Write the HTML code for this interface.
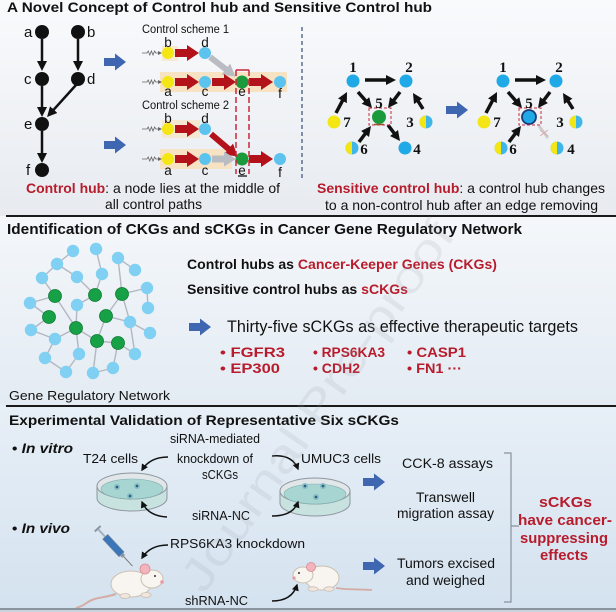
<!DOCTYPE html>
<html><head><meta charset="utf-8">
<style>
html,body{margin:0;padding:0;background:#fff;}
svg{display:block;}
text{font-family:"Liberation Sans",Arial,sans-serif;fill:#111;}
.b{font-weight:bold;}
.r{fill:#b81c2c;}
.s{font-family:"Liberation Serif",serif;font-weight:bold;font-size:15px;}
</style></head>
<body>
<svg width="616" height="612" viewBox="0 0 616 612" xmlns="http://www.w3.org/2000/svg">
<defs>
<linearGradient id="g1" x1="0" y1="0" x2="0" y2="1"><stop offset="0" stop-color="#f9fafc"/><stop offset="1" stop-color="#e7ebf0"/></linearGradient>
<linearGradient id="g2" x1="0" y1="0" x2="0" y2="1"><stop offset="0" stop-color="#f4f7fa"/><stop offset="1" stop-color="#e3ebf3"/></linearGradient>
<linearGradient id="g3" x1="0" y1="0" x2="0" y2="1"><stop offset="0" stop-color="#e7eff7"/><stop offset="1" stop-color="#d4e2ef"/></linearGradient>
<marker id="ah" viewBox="0 0 10 10" refX="5" refY="5" markerWidth="10" markerHeight="10" markerUnits="userSpaceOnUse" orient="auto"><path d="M0,0 L10,5 L0,10 z" fill="#111"/></marker>
<marker id="ah2" viewBox="0 0 10 10" refX="8" refY="5" markerWidth="7" markerHeight="7" markerUnits="userSpaceOnUse" orient="auto"><path d="M0,0 L10,5 L0,10 z" fill="#111"/></marker>
<marker id="ah3" viewBox="0 0 10 10" refX="8" refY="5" markerWidth="5" markerHeight="5" markerUnits="userSpaceOnUse" orient="auto"><path d="M0,0 L10,5 L0,10 z" fill="#b3b7c0"/></marker>
<path id="ra" d="M0,-4 H12 V-8 L24,0 L12,8 V4 H0 Z" fill="#b3121a"/>
<path id="ga" d="M0,-3.5 H12 V-7.5 L24,0 L12,7.5 V3.5 H0 Z" fill="#b9bcc3"/>
<path id="ba" d="M0,-4 H11 V-8.5 L22,0 L11,8.5 V4 H0 Z" fill="#3f67b1"/>
<g id="wv"><path d="M142,0 H147 l1.2,-2 l1.6,4 l1.6,-4 l1.6,4 l1.6,-4 l1.2,2 H159" stroke="#666" stroke-width="0.8" fill="none"/><path d="M158,-2 L162,0 L158,2z" fill="#666"/></g>
<g id="hn"><circle r="6.5" fill="#3fb6ea"/><path d="M0,-6.5 A6.5,6.5 0 0 0 0,6.5 Z" fill="#f4e614"/></g>
</defs>

<!-- backgrounds -->
<rect x="0" y="0" width="616" height="216" fill="url(#g1)"/>
<rect x="0" y="216" width="616" height="190" fill="url(#g2)"/>
<rect x="0" y="406" width="616" height="206" fill="url(#g3)"/>

<!-- ============ SECTION 1 ============ -->
<text x="7" y="12" font-size="13.5" class="b" textLength="425" lengthAdjust="spacingAndGlyphs">A Novel Concept of Control hub and Sensitive Control hub</text>

<!-- left graph -->
<g stroke="#111" stroke-width="2.5" fill="none">
<line x1="42" y1="39" x2="42" y2="66" marker-end="url(#ah)"/>
<line x1="78" y1="39" x2="78" y2="66" marker-end="url(#ah)"/>
<line x1="42" y1="86" x2="42" y2="112" marker-end="url(#ah)"/>
<line x1="76" y1="85" x2="50.4" y2="113.3" marker-end="url(#ah)"/>
<line x1="42" y1="131" x2="42" y2="158" marker-end="url(#ah)"/>
</g>
<g fill="#111">
<circle cx="42" cy="32" r="7"/><circle cx="78" cy="32" r="7"/>
<circle cx="42" cy="79" r="7"/><circle cx="78" cy="79" r="7"/>
<circle cx="42" cy="124" r="7"/><circle cx="42" cy="170" r="7"/>
</g>
<g font-size="15">
<text x="24" y="37">a</text><text x="87" y="37">b</text>
<text x="24" y="84">c</text><text x="87" y="84">d</text>
<text x="24" y="129">e</text><text x="26" y="175">f</text>
</g>
<use href="#ba" x="104" y="62"/>
<use href="#ba" x="104" y="145"/>

<!-- control scheme 1 -->
<text x="142" y="33" font-size="11.5" textLength="87" lengthAdjust="spacingAndGlyphs">Control scheme 1</text>
<rect x="162" y="46" width="16" height="15" fill="#f6e6cc" opacity="0.8"/>
<rect x="160" y="72" width="127" height="20" fill="#f7e3c3"/>
<use href="#wv" y="53"/><use href="#wv" y="82"/>
<g transform="translate(210,57) rotate(37.6)"><path d="M0,-3 H20 V-7 L32,0 L20,7 V3 H0 Z" fill="#b9bcc3"/></g>
<use href="#ra" x="175" y="53"/>
<use href="#ra" x="175" y="82"/><use href="#ra" x="212" y="82"/><use href="#ra" x="249" y="82"/>
<circle cx="168" cy="53" r="6" fill="#f4e614"/><circle cx="205" cy="53" r="6" fill="#5cc2ee"/>
<circle cx="168" cy="82" r="6" fill="#f4e614"/><circle cx="205" cy="82" r="6" fill="#5cc2ee"/>
<circle cx="242" cy="82" r="6.5" fill="#1b9a3c"/><circle cx="280" cy="82" r="6" fill="#5cc2ee"/>
<g font-size="13.5" text-anchor="middle">
<text x="168" y="47">b</text><text x="205" y="47">d</text>
<text x="168" y="96">a</text><text x="205" y="96">c</text><text x="242" y="96">e</text><text x="280" y="98">f</text>
</g>

<!-- control scheme 2 -->
<text x="142" y="109" font-size="11.5" textLength="87" lengthAdjust="spacingAndGlyphs">Control scheme 2</text>
<rect x="162" y="120" width="38" height="18" fill="#f6e6cc" opacity="0.85"/>
<rect x="160" y="149" width="72" height="20" fill="#f7e3c3"/>
<use href="#wv" y="129"/><use href="#wv" y="159"/>
<use href="#ra" x="175" y="129"/>
<g transform="translate(211,134) rotate(40.4)"><path d="M0,-3 H23 V-7 L35,0 L23,7 V3 H0 Z" fill="#b3121a"/></g>
<use href="#ra" x="175" y="159"/><use href="#ga" x="212" y="159"/><use href="#ra" x="249" y="159"/>
<circle cx="168" cy="129" r="6" fill="#f4e614"/><circle cx="205" cy="129" r="6" fill="#5cc2ee"/>
<circle cx="168" cy="159" r="6" fill="#f4e614"/><circle cx="205" cy="159" r="6" fill="#5cc2ee"/>
<circle cx="242" cy="159" r="6.5" fill="#1b9a3c"/><circle cx="280" cy="159" r="6" fill="#5cc2ee"/>
<g font-size="13.5" text-anchor="middle">
<text x="168" y="123">b</text><text x="205" y="123">d</text>
<text x="168" y="175">a</text><text x="205" y="175">c</text><text x="242" y="175">e</text><text x="280" y="177">f</text>
</g>
<!-- red dashed box -->
<g stroke="#c8283a" stroke-width="1.5" fill="none">
<line x1="236" y1="70" x2="249" y2="70"/>
<line x1="236" y1="70" x2="236" y2="174" stroke-dasharray="6 3"/>
<line x1="249" y1="70" x2="249" y2="174" stroke-dasharray="6 3"/>
<line x1="238" y1="176" x2="247" y2="176" stroke="#333"/>
</g>

<text x="26" y="193" font-size="14" textLength="254" lengthAdjust="spacingAndGlyphs"><tspan class="b r">Control hub</tspan>: a node lies at the middle of</text>
<text x="105" y="209" font-size="14" textLength="97" lengthAdjust="spacingAndGlyphs">all control paths</text>

<!-- vertical separator -->
<line x1="302" y1="27" x2="302" y2="181" stroke="#5a6f8c" stroke-width="1.5" stroke-dasharray="4 3"/>

<!-- right graph 1 -->
<g stroke="#111" stroke-width="3.5" fill="none">
<line x1="365" y1="80" x2="391" y2="80" marker-end="url(#ah)"/>
<line x1="336" y1="113" x2="344.7" y2="96.4" marker-end="url(#ah)"/>
<line x1="358" y1="92" x2="368.7" y2="104.2" marker-end="url(#ah)"/>
<line x1="400" y1="92" x2="391" y2="104" marker-end="url(#ah)"/>
<line x1="423" y1="109" x2="415.6" y2="97.2" marker-end="url(#ah)"/>
<line x1="359" y1="142" x2="368" y2="130" marker-end="url(#ah)"/>
<line x1="388" y1="125" x2="397" y2="137" marker-end="url(#ah)"/>
</g>
<circle cx="353" cy="81" r="6.5" fill="#1fa9e6"/>
<circle cx="406" cy="81" r="6.5" fill="#1fa9e6"/>
<circle cx="379" cy="117" r="7" fill="#1b9a3c"/>
<circle cx="334" cy="122" r="6.5" fill="#f4e614"/>
<use href="#hn" x="426" y="122"/>
<use href="#hn" x="352" y="148"/>
<circle cx="405" cy="148" r="6.5" fill="#1fa9e6"/>
<rect x="369" y="108" width="22" height="17" fill="none" stroke="#c8283a" stroke-width="1" stroke-dasharray="3 2"/>
<line x1="374" y1="124.5" x2="384" y2="124.5" stroke="#a0522d" stroke-width="1.5"/>
<text class="s" x="353" y="72" text-anchor="middle">1</text>
<text class="s" x="409" y="72" text-anchor="middle">2</text>
<text class="s" x="379" y="108" text-anchor="middle">5</text>
<text class="s" x="347" y="127" text-anchor="middle">7</text>
<text class="s" x="410" y="127" text-anchor="middle">3</text>
<text class="s" x="364" y="154" text-anchor="middle">6</text>
<text class="s" x="417" y="154" text-anchor="middle">4</text>

<use href="#ba" x="446" y="110"/>

<!-- right graph 2 -->
<g transform="translate(150,0)">
<g stroke="#111" stroke-width="3.5" fill="none">
<line x1="365" y1="80" x2="391" y2="80" marker-end="url(#ah)"/>
<line x1="336" y1="113" x2="344.7" y2="96.4" marker-end="url(#ah)"/>
<line x1="358" y1="92" x2="368.7" y2="104.2" marker-end="url(#ah)"/>
<line x1="400" y1="92" x2="391" y2="104" marker-end="url(#ah)"/>
<line x1="423" y1="109" x2="415.6" y2="97.2" marker-end="url(#ah)"/>
<line x1="359" y1="142" x2="368" y2="130" marker-end="url(#ah)"/>
</g>
<g opacity="0.5"><line x1="389" y1="126" x2="398" y2="138" stroke="#b0a8a8" stroke-width="3"/>
<path d="M390,130 l8,6 M398,130 l-8,6" stroke="#c86a70" stroke-width="1"/></g>
<circle cx="353" cy="81" r="6.5" fill="#1fa9e6"/>
<circle cx="406" cy="81" r="6.5" fill="#1fa9e6"/>
<circle cx="379" cy="117" r="7" fill="#1fa9e6" stroke="#1c3b7a" stroke-width="1.8"/>
<circle cx="334" cy="122" r="6.5" fill="#f4e614"/>
<use href="#hn" x="426" y="122"/>
<use href="#hn" x="351" y="148"/>
<use href="#hn" x="407" y="148"/>
<rect x="369" y="108" width="22" height="17" fill="none" stroke="#c8283a" stroke-width="1" stroke-dasharray="3 2"/>
<text class="s" x="353" y="72" text-anchor="middle">1</text>
<text class="s" x="409" y="72" text-anchor="middle">2</text>
<text class="s" x="379" y="108" text-anchor="middle">5</text>
<text class="s" x="347" y="127" text-anchor="middle">7</text>
<text class="s" x="410" y="127" text-anchor="middle">3</text>
<text class="s" x="363" y="154" text-anchor="middle">6</text>
<text class="s" x="421" y="154" text-anchor="middle">4</text>
</g>

<text x="317" y="193" font-size="14" textLength="288" lengthAdjust="spacingAndGlyphs"><tspan class="b r">Sensitive control hub</tspan>: a control hub changes</text>
<text x="325" y="210" font-size="14" textLength="273" lengthAdjust="spacingAndGlyphs">to a non-control hub after an edge removing</text>

<rect x="6" y="215" width="610" height="2" fill="#1a1a1a"/>

<!-- ============ SECTION 2 ============ -->
<text x="7" y="234" font-size="15" class="b" textLength="515" lengthAdjust="spacingAndGlyphs">Identification of CKGs and sCKGs in Cancer Gene Regulatory Network</text>

<!-- network -->
<g stroke="#b3b7c0" stroke-width="1.4" fill="none">
<line x1="57" y1="264" x2="73" y2="251"/>
<line x1="96" y1="249" x2="102" y2="274"/>
<line x1="118" y1="258" x2="135" y2="270"/>
<line x1="118" y1="258" x2="122" y2="294"/>
<line x1="57" y1="264" x2="77" y2="277"/>
<line x1="42" y1="278" x2="57" y2="264"/>
<line x1="42" y1="278" x2="55" y2="296"/>
<line x1="30" y1="303" x2="55" y2="296"/>
<line x1="30" y1="303" x2="49" y2="317"/>
<line x1="31" y1="330" x2="49" y2="317"/>
<line x1="31" y1="330" x2="55" y2="339"/>
<line x1="55" y1="339" x2="76" y2="328"/>
<line x1="55" y1="296" x2="76" y2="328"/>
<line x1="77" y1="305" x2="76" y2="328"/>
<line x1="77" y1="277" x2="95" y2="295"/>
<line x1="102" y1="274" x2="95" y2="295"/>
<line x1="95" y1="295" x2="77" y2="305"/>
<line x1="122" y1="294" x2="106" y2="316"/>
<line x1="122" y1="294" x2="147" y2="288"/>
<line x1="147" y1="288" x2="148" y2="308"/>
<line x1="122" y1="294" x2="130" y2="322"/>
<line x1="130" y1="322" x2="135" y2="354"/>
<line x1="130" y1="322" x2="150" y2="333"/>
<line x1="106" y1="316" x2="97" y2="341"/>
<line x1="76" y1="328" x2="97" y2="341"/>
<line x1="76" y1="328" x2="79" y2="354"/>
<line x1="97" y1="341" x2="93" y2="373"/>
<line x1="97" y1="341" x2="118" y2="343"/>
<line x1="45" y1="358" x2="55" y2="339"/>
<line x1="45" y1="358" x2="66" y2="372"/>
<line x1="66" y1="372" x2="79" y2="354"/>
<line x1="93" y1="373" x2="113" y2="368"/>
<line x1="113" y1="368" x2="118" y2="343"/>
<line x1="135" y1="354" x2="118" y2="343"/>
<line x1="106" y1="316" x2="130" y2="322"/>
</g>
<g fill="#7fd0f2">
<circle cx="73" cy="251" r="6.2"/><circle cx="96" cy="249" r="6.2"/><circle cx="57" cy="264" r="6.2"/>
<circle cx="118" cy="258" r="6.2"/><circle cx="135" cy="270" r="6.2"/><circle cx="42" cy="278" r="6.2"/>
<circle cx="77" cy="277" r="6.2"/><circle cx="102" cy="274" r="6.2"/><circle cx="147" cy="288" r="6.2"/>
<circle cx="30" cy="303" r="6.2"/><circle cx="77" cy="305" r="6.2"/><circle cx="148" cy="308" r="6.2"/>
<circle cx="130" cy="322" r="6.2"/><circle cx="31" cy="330" r="6.2"/><circle cx="55" cy="339" r="6.2"/>
<circle cx="150" cy="333" r="6.2"/><circle cx="45" cy="358" r="6.2"/><circle cx="79" cy="354" r="6.2"/>
<circle cx="135" cy="354" r="6.2"/><circle cx="66" cy="372" r="6.2"/><circle cx="93" cy="373" r="6.2"/>
<circle cx="113" cy="368" r="6.2"/>
</g>
<g fill="#17a146" stroke="#0d7a32" stroke-width="0.8">
<circle cx="55" cy="296" r="6.5"/><circle cx="95" cy="295" r="6.5"/><circle cx="122" cy="294" r="6.5"/>
<circle cx="49" cy="317" r="6.5"/><circle cx="106" cy="316" r="6.5"/><circle cx="76" cy="328" r="6.5"/>
<circle cx="97" cy="341" r="6.5"/><circle cx="118" cy="343" r="6.5"/>
</g>
<text x="9" y="400" font-size="12.5" textLength="161" lengthAdjust="spacingAndGlyphs">Gene Regulatory Network</text>

<text x="187" y="269" font-size="13.5" class="b" textLength="310" lengthAdjust="spacingAndGlyphs">Control hubs as <tspan class="r">Cancer-Keeper Genes (CKGs)</tspan></text>
<text x="187" y="294" font-size="13.5" class="b" textLength="221" lengthAdjust="spacingAndGlyphs">Sensitive control hubs as <tspan class="r">sCKGs</tspan></text>
<use href="#ba" x="189" y="327"/>
<text x="227" y="332" font-size="17" textLength="351" lengthAdjust="spacingAndGlyphs">Thirty-five sCKGs as effective therapeutic targets</text>
<g font-size="13.5" class="b">
<text x="220" y="357" class="b r" textLength="65" lengthAdjust="spacingAndGlyphs">• FGFR3</text>
<text x="220" y="373" class="b r" textLength="60" lengthAdjust="spacingAndGlyphs">• EP300</text>
<text x="313" y="357" class="b r" textLength="72" lengthAdjust="spacingAndGlyphs">• RPS6KA3</text>
<text x="313" y="373" class="b r" textLength="47" lengthAdjust="spacingAndGlyphs">• CDH2</text>
<text x="407" y="357" class="b r" textLength="59" lengthAdjust="spacingAndGlyphs">• CASP1</text>
<text x="407" y="373" class="b r" textLength="55" lengthAdjust="spacingAndGlyphs">• FN1 ···</text>
</g>

<rect x="6" y="405" width="610" height="2" fill="#1a1a1a"/>

<!-- ============ SECTION 3 ============ -->
<text x="9" y="425" font-size="14" class="b" textLength="390" lengthAdjust="spacingAndGlyphs">Experimental Validation of Representative Six sCKGs</text>
<text x="12" y="453" font-size="14" class="b" textLength="61" lengthAdjust="spacingAndGlyphs">• <tspan font-style="italic">In vitro</tspan></text>
<text x="12" y="533" font-size="14" class="b" textLength="58" lengthAdjust="spacingAndGlyphs">• <tspan font-style="italic">In vivo</tspan></text>

<g font-size="13">
<text x="170" y="443" textLength="90" lengthAdjust="spacingAndGlyphs">siRNA-mediated</text>
<text x="83" y="463" textLength="55" lengthAdjust="spacingAndGlyphs">T24 cells</text>
<text x="177" y="463" textLength="76" lengthAdjust="spacingAndGlyphs">knockdown of</text>
<text x="202" y="479" textLength="36" lengthAdjust="spacingAndGlyphs">sCKGs</text>
<text x="301" y="463" textLength="80" lengthAdjust="spacingAndGlyphs">UMUC3 cells</text>
<text x="192" y="520" textLength="58" lengthAdjust="spacingAndGlyphs">siRNA-NC</text>
<text x="170" y="548" textLength="135" lengthAdjust="spacingAndGlyphs">RPS6KA3 knockdown</text>
<text x="185" y="605" textLength="63" lengthAdjust="spacingAndGlyphs">shRNA-NC</text>
</g>
<g font-size="13.5">
<text x="402" y="468" textLength="91" lengthAdjust="spacingAndGlyphs">CCK-8 assays</text>
<text x="416" y="502" textLength="59" lengthAdjust="spacingAndGlyphs">Transwell</text>
<text x="397" y="518" textLength="97" lengthAdjust="spacingAndGlyphs">migration assay</text>
<text x="397" y="568" textLength="98" lengthAdjust="spacingAndGlyphs">Tumors excised</text>
<text x="406" y="585" textLength="79" lengthAdjust="spacingAndGlyphs">and weighed</text>
</g>
<g font-size="15" class="b">
<text x="539" y="507" class="b r" textLength="53" lengthAdjust="spacingAndGlyphs">sCKGs</text>
<text x="518" y="525" class="b r" textLength="94" lengthAdjust="spacingAndGlyphs">have cancer-</text>
<text x="520" y="543" class="b r" textLength="88" lengthAdjust="spacingAndGlyphs">suppressing</text>
<text x="540" y="560" class="b r" textLength="48" lengthAdjust="spacingAndGlyphs">effects</text>
</g>
<path d="M504,453 H511 V602 H504 M511,526 H519" stroke="#8a929c" stroke-width="1.2" fill="none"/>

<use href="#ba" x="363" y="482"/>
<use href="#ba" x="363" y="566"/>

<!-- dishes -->
<g>
<path d="M97,486 V498 A35,13 0 0 0 167,498 V486 Z" fill="#c7e2df" stroke="#8e979e" stroke-width="1"/>
<ellipse cx="132" cy="486" rx="35" ry="13" fill="#e1e6e8" stroke="#8e979e" stroke-width="1"/>
<ellipse cx="132" cy="489" rx="31" ry="10" fill="#a6d5d2" stroke="#86aeb0" stroke-width="0.6"/>
<circle cx="117" cy="487" r="3" fill="#86bcc4"/><circle cx="117" cy="487" r="1.3" fill="#2d5d7a"/>
<circle cx="137" cy="486" r="3" fill="#86bcc4"/><circle cx="137" cy="486" r="1.3" fill="#2d5d7a"/>
<circle cx="130" cy="496" r="3" fill="#86bcc4"/><circle cx="130" cy="496" r="1.3" fill="#2d5d7a"/>
</g>
<g transform="translate(183,5)">
<path d="M97,486 V498 A35,13 0 0 0 167,498 V486 Z" fill="#c7e2df" stroke="#8e979e" stroke-width="1"/>
<ellipse cx="132" cy="486" rx="35" ry="13" fill="#e1e6e8" stroke="#8e979e" stroke-width="1"/>
<ellipse cx="132" cy="489" rx="31" ry="10" fill="#a6d5d2" stroke="#86aeb0" stroke-width="0.6"/>
<circle cx="122" cy="481" r="3" fill="#86bcc4"/><circle cx="122" cy="481" r="1.3" fill="#2d5d7a"/>
<circle cx="140" cy="481" r="3" fill="#86bcc4"/><circle cx="140" cy="481" r="1.3" fill="#2d5d7a"/>
<circle cx="133" cy="492" r="3" fill="#86bcc4"/><circle cx="133" cy="492" r="1.3" fill="#2d5d7a"/>
</g>

<!-- curved arrows -->
<g stroke="#111" stroke-width="1.5" fill="none">
<path d="M168,457 Q150,457 142,470" marker-end="url(#ah2)"/>
<path d="M167,517 Q148,516 142,502" marker-end="url(#ah2)"/>
<path d="M272,456 Q292,454 298,469" marker-end="url(#ah2)"/>
<path d="M272,516 Q293,516 298,502" marker-end="url(#ah2)"/>
<path d="M168,545 Q150,545 142,558" marker-end="url(#ah2)"/>
<path d="M272,601 Q292,601 297,585" marker-end="url(#ah2)"/>
</g>

<!-- syringe -->
<g transform="translate(97,528) rotate(47)">
<rect x="0" y="-4" width="2" height="8" fill="#8a96a3"/>
<rect x="2" y="-1" width="10" height="2" fill="#a7b1bb"/>
<rect x="12" y="-3.5" width="24" height="7" fill="#3a76b8" stroke="#7a8b9c" stroke-width="0.6"/>
<rect x="36" y="-2" width="3" height="4" fill="#8a96a3"/>
<line x1="39" y1="0" x2="52" y2="0" stroke="#777" stroke-width="1"/>
</g>

<!-- mouse 1 (facing right) -->
<g>
<path d="M116,594 C104,598 96,597 88,602 C84,605 80,607 76,608" stroke="#d3ada4" stroke-width="2" fill="none"/>
<ellipse cx="131" cy="584" rx="20" ry="13" fill="#f8f5f0" stroke="#cbbfb2" stroke-width="1"/>
<ellipse cx="152" cy="579" rx="11" ry="9" fill="#f8f5f0" stroke="#cbbfb2" stroke-width="1"/>
<ellipse cx="125" cy="596" rx="5" ry="2.5" fill="#f1e6de" stroke="#cbbfb2" stroke-width="0.8"/>
<ellipse cx="146" cy="595" rx="5" ry="2.5" fill="#f1e6de" stroke="#cbbfb2" stroke-width="0.8"/>
<circle cx="145" cy="569" r="5" fill="#f3b4bb" stroke="#d98a94" stroke-width="0.8"/>
<circle cx="155" cy="576" r="1" fill="#333"/>
<circle cx="162" cy="582" r="1.8" fill="#e89aa4"/>
</g>
<!-- mouse 2 (facing left) -->
<g>
<path d="M336,588 C348,590 360,589 372,590" stroke="#d3ada4" stroke-width="1.8" fill="none"/>
<ellipse cx="322" cy="578" rx="17" ry="12" fill="#f8f5f0" stroke="#cbbfb2" stroke-width="1"/>
<ellipse cx="303" cy="575" rx="10" ry="8" fill="#f8f5f0" stroke="#cbbfb2" stroke-width="1"/>
<ellipse cx="313" cy="589" rx="5" ry="2.2" fill="#f1e6de" stroke="#cbbfb2" stroke-width="0.8"/>
<ellipse cx="329" cy="589" rx="5" ry="2.2" fill="#f1e6de" stroke="#cbbfb2" stroke-width="0.8"/>
<circle cx="311" cy="567" r="4.5" fill="#f3b4bb" stroke="#d98a94" stroke-width="0.8"/>
<circle cx="299" cy="573" r="1" fill="#333"/>
<circle cx="294" cy="578" r="1.6" fill="#e89aa4"/>
</g>

<!-- watermark -->
<text x="330" y="415" transform="rotate(-55 330 415)" text-anchor="middle" font-size="46" style="fill:#9aa0a8" opacity="0.16" textLength="440" lengthAdjust="spacingAndGlyphs">Journal Pre-proof</text>

<rect x="0" y="608" width="616" height="2" fill="#8b949e"/>
<rect x="0" y="610" width="616" height="2" fill="#c9d3dd"/>
</svg>
</body></html>
